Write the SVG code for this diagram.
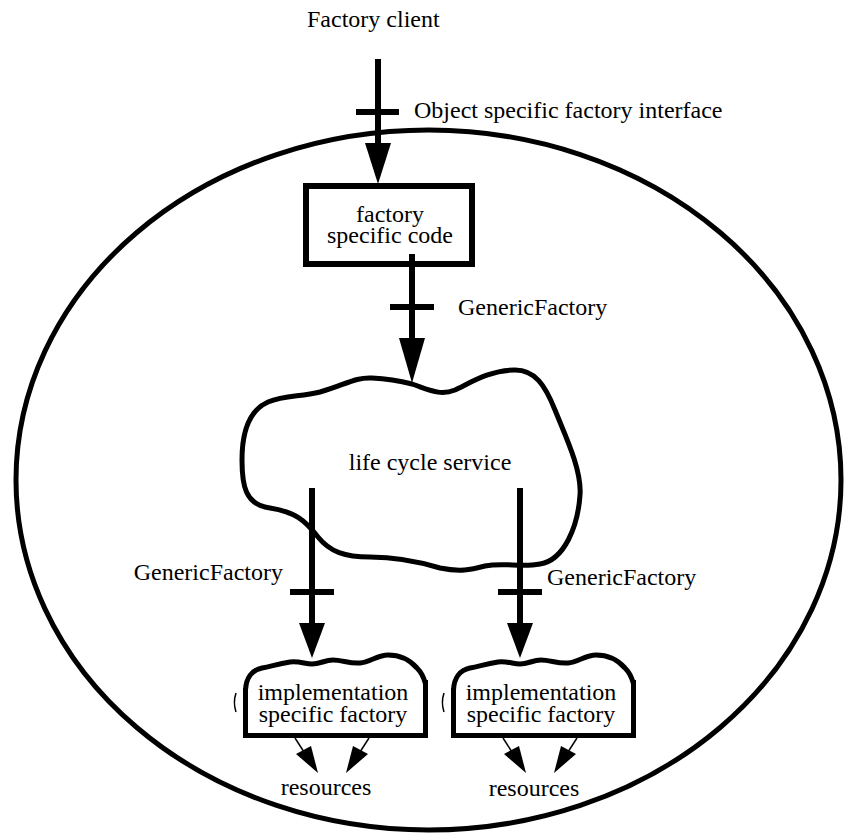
<svg xmlns="http://www.w3.org/2000/svg" width="849" height="833" viewBox="0 0 849 833">
<style>
  text { font-family: "Liberation Serif", "Times New Roman", serif; font-size: 24px; fill: #000; }
  .mid { text-anchor: middle; }
  .end { text-anchor: end; }
  .outline { fill: none; stroke: #000; stroke-width: 5; }
  .thick { fill: none; stroke: #000; stroke-width: 6; }
  .wire { fill: none; stroke: #000; stroke-width: 6; }
  .thin { fill: none; stroke: #000; stroke-width: 1.5; }
  .head { fill: #000; stroke: none; }
</style>
<rect width="849" height="833" fill="#fff"/>

<g id="boundary">
  <ellipse cx="428.5" cy="480" rx="412.5" ry="350" class="outline" stroke-width="5"/>
</g>

<g id="factory-client">
  <text x="307" y="27">Factory client</text>
</g>

<g id="factory-specific-code">
  <rect x="306" y="186" width="166" height="78" fill="#fff" class="thick"/>
  <text x="390" y="222" class="mid">factory</text>
  <text x="390" y="243" class="mid">specific code</text>
</g>

<g id="life-cycle-service">
  <path class="outline" stroke-width="4" d="M 412,384 C 430,390 440,396 455,390 C 470,383 490,370 515,370 C 535,370 545,385 555,410 C 565,435 582,470 580,495 C 578,525 565,560 540,564 C 520,568 505,562 485,566 C 470,570 460,572 440,568 C 420,562 395,557 370,557 C 345,557 330,552 318,537 C 305,520 295,512 270,508 C 245,505 242,485 242,460 C 242,430 250,410 268,402 C 285,395 300,397 320,392 C 345,385 355,377 372,378 C 390,379 400,381 412,384 Z"/>
  <text x="430" y="470" class="mid">life cycle service</text>
</g>

<g id="impl-factory-left">
  <path class="outline" d="M 425.5,680 L 425.5,735.5 L 245.5,735.5 L 245.5,688"/>
  <path class="outline" stroke-width="4" d="M 245.5,690 C 246,678 252,670 262,668 C 272,666 278,664 290,662 C 300,661 305,664 312,664 C 320,664 325,660 333,660 C 342,660 350,664 360,663 C 370,662 378,655 388,655 C 400,655 410,660 417,668 C 421,672 424,678 425.5,684"/>
  <path class="thin" d="M 236,693 C 234,699 234,706 236,712"/>
  <text x="333" y="700" class="mid">implementation</text>
  <text x="333" y="722" class="mid">specific factory</text>
</g>

<g id="impl-factory-right">
  <path class="outline" d="M 633.5,680 L 633.5,735.5 L 453.5,735.5 L 453.5,688"/>
  <path class="outline" stroke-width="4" d="M 453.5,690 C 454,678 460,670 470,668 C 480,666 486,664 498,662 C 508,661 513,664 520,664 C 528,664 533,660 541,660 C 550,660 558,664 568,663 C 578,662 586,655 596,655 C 608,655 618,660 625,668 C 629,672 632,678 633.5,684"/>
  <path class="thin" d="M 444,693 C 442,699 442,706 444,712"/>
  <text x="541" y="700" class="mid">implementation</text>
  <text x="541" y="722" class="mid">specific factory</text>
</g>

<g id="resources-left">
  <text x="326" y="795" class="mid">resources</text>
</g>
<g id="resources-right">
  <text x="534" y="796" class="mid">resources</text>
</g>

<g id="connectors">
  <!-- client to factory specific code -->
  <line x1="378" y1="59" x2="378" y2="150" class="wire"/>
  <line x1="356" y1="112" x2="399" y2="112" class="wire"/>
  <polygon class="head" points="365,143 391,143 378,184"/>
  <text x="414" y="118">Object specific factory interface</text>

  <!-- factory specific code to life cycle service -->
  <line x1="412" y1="254" x2="412" y2="345" class="wire"/>
  <line x1="390" y1="307" x2="434" y2="307" class="wire"/>
  <polygon class="head" points="399,338 425,338 412,383"/>
  <text x="458" y="315">GenericFactory</text>

  <!-- life cycle service to left impl factory -->
  <line x1="312" y1="488" x2="312" y2="630" class="wire"/>
  <line x1="290" y1="592" x2="334" y2="592" class="wire"/>
  <polygon class="head" points="299,623 325,623 312,658"/>
  <text x="283" y="580" class="end">GenericFactory</text>

  <!-- life cycle service to right impl factory -->
  <line x1="520" y1="488" x2="520" y2="630" class="wire"/>
  <line x1="498" y1="592" x2="542" y2="592" class="wire"/>
  <polygon class="head" points="507,623 533,623 520,658"/>
  <text x="547" y="585">GenericFactory</text>

  <!-- impl factories to resources -->
  <line x1="295" y1="738" x2="304" y2="752" class="thin"/>
  <polygon class="head" points="296,754 311,746 318,773"/>
  <line x1="369" y1="738" x2="360" y2="752" class="thin"/>
  <polygon class="head" points="368,754 353,746 346,773"/>
  <line x1="503" y1="738" x2="512" y2="752" class="thin"/>
  <polygon class="head" points="504,754 519,746 526,773"/>
  <line x1="577" y1="738" x2="568" y2="752" class="thin"/>
  <polygon class="head" points="576,754 561,746 554,773"/>
</g>
</svg>
